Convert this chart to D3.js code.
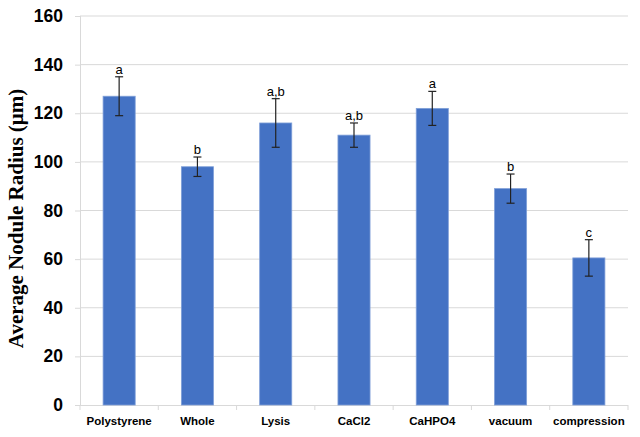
<!DOCTYPE html>
<html>
<head>
<meta charset="utf-8" />
<script src="https://cdn.jsdelivr.net/npm/d3@7"></script>
<style>
  body { margin: 0; background: #fff; }
  .ylab text { font: bold 17.5px "Liberation Sans", Arial, sans-serif; fill: #000; }
  .xlab text { font: bold 11.5px "Liberation Sans", Arial, sans-serif; fill: #000; }
</style>
</head>
<body>
<script>
// data
var categories = ["Polystyrene", "Whole", "Lysis", "CaCl2", "CaHPO4", "vacuum", "compression"];
var means = [127, 98, 116, 111, 122, 89, 60.5];
var errors = [8, 4, 10, 5, 7, 6, 7.5];
var letters = ["a", "b", "a,b", "a,b", "a", "b", "c"];
var yTicks = [0, 20, 40, 60, 80, 100, 120, 140, 160];

var data = categories.map(function(c, i) {
  return {name: c, valor: means[i], err: errors[i], letra: letters[i]};
});

var margin = {top: 16, right: 12, bottom: 32, left: 80},
    width = 640 - margin.left - margin.right,
    height = 437 - margin.top - margin.bottom;

var svg = d3.select("body").append("svg")
    .attr("width", 640)
    .attr("height", 437)
  .append("g")
    .attr("transform", "translate(" + margin.left + "," + margin.top + ")");

var x = d3.scaleBand()
  .range([0, width])
  .domain(categories)
  .paddingInner(0.59)
  .paddingOuter(0.295);

var y = d3.scaleLinear()
  .domain([0, 160])
  .range([height, 0]);

// gridlines
svg.selectAll("line.grid")
  .data(yTicks.slice(1))
  .enter()
  .append("line")
    .attr("class", "grid")
    .attr("x1", 0)
    .attr("x2", width)
    .attr("y1", function(d) { return y(d); })
    .attr("y2", function(d) { return y(d); })
    .attr("stroke", "#d9d9d9")
    .attr("stroke-width", 1);

// Y axis
var yAxis = svg.append("g")
  .attr("class", "ylab")
  .call(d3.axisLeft(y).tickValues(yTicks).tickSize(5).tickPadding(12));
yAxis.select(".domain").attr("stroke", "#d9d9d9").attr("d", "M0.5," + height + "V0");
yAxis.selectAll(".tick line").attr("stroke", "#d9d9d9");

// X axis with ticks at category borders
var xAxis = svg.append("g")
  .attr("class", "xlab")
  .attr("transform", "translate(0," + height + ")")
  .call(d3.axisBottom(x).tickSize(0).tickPadding(12));
xAxis.select(".domain").attr("stroke", "#d9d9d9").attr("d", "M0," + 0.5 + "H" + width);
xAxis.selectAll("line.border")
  .data(d3.range(categories.length + 1))
  .enter()
  .append("line")
    .attr("class", "border")
    .attr("x1", function(d) { return d * width / categories.length; })
    .attr("x2", function(d) { return d * width / categories.length; })
    .attr("y1", 0)
    .attr("y2", 5)
    .attr("stroke", "#d9d9d9");

// Bars
svg.selectAll("rect.bar")
  .data(data)
  .enter()
  .append("rect")
    .attr("class", "bar")
    .attr("x", function(d) { return x(d.name); })
    .attr("y", function(d) { return y(d.valor); })
    .attr("width", x.bandwidth())
    .attr("height", function(d) { return height - y(d.valor); })
    .attr("fill", "#4472c4")
    .attr("stroke", "#7f9fd8")
    .attr("stroke-width", 0.8);

// error bars
var eb = svg.selectAll("g.err")
  .data(data)
  .enter()
  .append("g")
    .attr("transform", function(d) { return "translate(" + (x(d.name) + x.bandwidth() / 2) + ",0)"; });
eb.append("line")
  .attr("x1", 0).attr("x2", 0)
  .attr("y1", function(d) { return y(d.valor + d.err); })
  .attr("y2", function(d) { return y(d.valor - d.err); })
  .attr("stroke", "#222").attr("stroke-width", 1.2);
eb.append("line")
  .attr("x1", -4).attr("x2", 4)
  .attr("y1", function(d) { return y(d.valor + d.err); })
  .attr("y2", function(d) { return y(d.valor + d.err); })
  .attr("stroke", "#222").attr("stroke-width", 1.2);
eb.append("line")
  .attr("x1", -4).attr("x2", 4)
  .attr("y1", function(d) { return y(d.valor - d.err); })
  .attr("y2", function(d) { return y(d.valor - d.err); })
  .attr("stroke", "#222").attr("stroke-width", 1.2);
eb.append("text")
  .attr("x", 0)
  .attr("y", function(d) { return y(d.valor + d.err) - 3; })
  .attr("text-anchor", "middle")
  .style("font", "13px 'Liberation Sans', Arial, sans-serif")
  .text(function(d) { return d.letra; });

// Y title
svg.append("text")
  .attr("transform", "translate(" + (-57) + "," + (height / 2 + 8) + ")rotate(-90)")
  .attr("text-anchor", "middle")
  .style("font", "bold 21px 'Liberation Serif', 'Times New Roman', serif")
  .text("Average Nodule Radius (μm)");
</script>
</body>
</html>
